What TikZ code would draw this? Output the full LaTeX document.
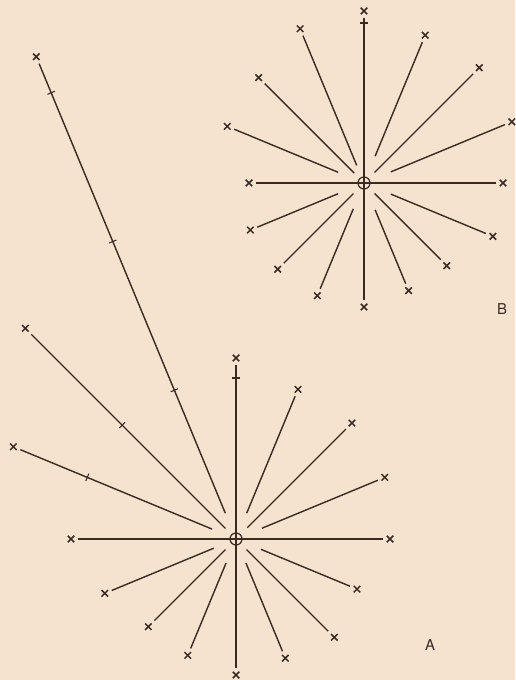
\documentclass[tikz,border=0pt]{standalone}
\usepackage{fontspec}
\setsansfont{TeX Gyre Heros}
\usetikzlibrary{shapes.misc,calc}
\definecolor{papel}{HTML}{F5E3CF}
\definecolor{tinta}{HTML}{3A2A22}

\begin{document}
\begin{tikzpicture}[x=0.02cm,y=0.02cm,
    ray/.style={tinta,line width=0.8pt,shorten >=0.08cm},
    axis/.style={ray,shorten <=0.08cm},
    mk/.style={cross out,draw=tinta,line width=0.85pt,inner sep=0pt,minimum size=0.13cm,outer sep=0pt},
    tick/.style={tinta,line width=0.6pt},
    hub/.style={circle,draw=tinta,line width=0.7pt,inner sep=0pt,minimum size=0.24cm},
    lbl/.style={font=\sffamily\fontsize{8.5}{9}\selectfont,text=tinta,inner sep=0pt}]
  \useasboundingbox (0,0) rectangle (515,680);
  \fill[papel] (0,0) rectangle (515,680);

  % centres of the two stars
  \coordinate (A) at (236,141);
  \coordinate (B) at (364,497);

  % star A
  \node[mk] (aN) at ($(A)+(90:181)$) {};
  \node[mk] (aS) at ($(A)+(270:136)$) {};
  \node[mk] (aE) at ($(A)+(0:154)$) {};
  \node[mk] (aW) at ($(A)+(180:165)$) {};
  \draw[axis] (aN) -- (aS);
  \draw[axis] (aW) -- (aE);
  \foreach \ang/\len/\gap [count=\i] in {22.5/161/28, 45/164/16, 67.5/162/28,
      112.5/522/28, 135/298/15, 157.5/241/26, 202.5/142/24, 225/124/15,
      247.5/126/26, 292.5/129/26, 315/139/15, 337.5/131/27}{
    \node[mk] (a\i) at ($(A)+(\ang:\len)$) {};
    \coordinate (ai\i) at ($(A)+(\ang:\gap)$);
    \draw[ray] (ai\i) -- (a\i);
  }
  \foreach \ang/\rr in {90/161, 112.5/161, 112.5/322, 112.5/483, 135/161, 157.5/161}
    \draw[tick] (A) ++(\ang:\rr) +(\ang+90:4) -- +(\ang-90:4);
  \node[hub] (ca) at (A) {};

  % star B
  \node[mk] (bN) at ($(B)+(90:172)$) {};
  \node[mk] (bS) at ($(B)+(270:124)$) {};
  \node[mk] (bE) at ($(B)+(0:139)$) {};
  \node[mk] (bW) at ($(B)+(180:115)$) {};
  \draw[axis] (bN) -- (bS);
  \draw[axis] (bW) -- (bE);
  \foreach \ang/\len/\gap [count=\i] in {22.5/160/29, 45/163/15, 67.5/160/29,
      112.5/167/19, 135/149/14, 157.5/148/28, 202.5/123/28, 225/122/15,
      247.5/122/28, 292.5/116.5/29, 315/117/15, 337.5/139.5/29}{
    \node[mk] (b\i) at ($(B)+(\ang:\len)$) {};
    \coordinate (bi\i) at ($(B)+(\ang:\gap)$);
    \draw[ray] (bi\i) -- (b\i);
  }
  \draw[tick] (B) ++(90:160) +(0:4) -- +(180:4);
  \node[hub] (cb) at (B) {};

  \node[lbl] (labA) at (430,35) {A};
  \node[lbl] (labB) at (502,371) {B};
\end{tikzpicture}
\end{document}
